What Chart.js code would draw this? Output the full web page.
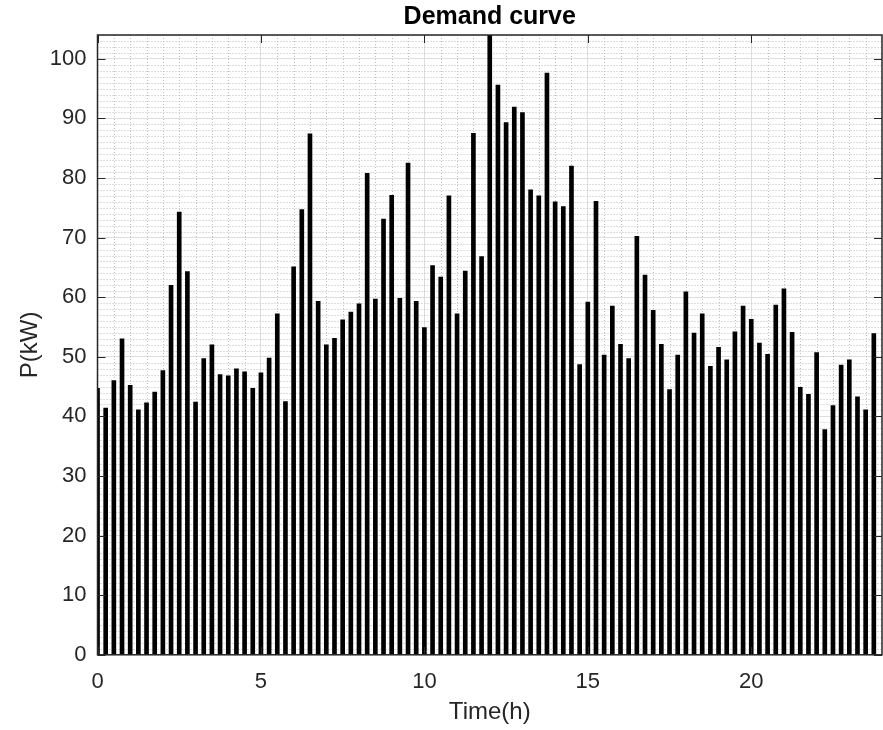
<!DOCTYPE html>
<html>
<head>
<meta charset="utf-8">
<script src="https://cdn.jsdelivr.net/npm/chart.js@4/dist/chart.umd.min.js"></script>
<style>
  html, body { margin: 0; padding: 0; background: #fff; }
  #wrap { width: 883px; height: 730px; }
</style>
</head>
<body>
<div id="wrap"><canvas id="demandChart" width="883" height="730"></canvas></div>
<script>
// time of day (h), one bar every 15 minutes
var times = [
  0, 0.25, 0.5, 0.75, 1, 1.25, 1.5, 1.75, 2, 2.25, 2.5, 2.75,
  3, 3.25, 3.5, 3.75, 4, 4.25, 4.5, 4.75, 5, 5.25, 5.5, 5.75,
  6, 6.25, 6.5, 6.75, 7, 7.25, 7.5, 7.75, 8, 8.25, 8.5, 8.75,
  9, 9.25, 9.5, 9.75, 10, 10.25, 10.5, 10.75, 11, 11.25, 11.5, 11.75,
  12, 12.25, 12.5, 12.75, 13, 13.25, 13.5, 13.75, 14, 14.25, 14.5, 14.75,
  15, 15.25, 15.5, 15.75, 16, 16.25, 16.5, 16.75, 17, 17.25, 17.5, 17.75,
  18, 18.25, 18.5, 18.75, 19, 19.25, 19.5, 19.75, 20, 20.25, 20.5, 20.75,
  21, 21.25, 21.5, 21.75, 22, 22.25, 22.5, 22.75, 23, 23.25, 23.5, 23.75
];

// demand P (kW)
var demand = [
  44.7, 41.4, 46.0, 53.0, 45.2, 41.1, 42.3, 44.1, 47.7, 62.0, 74.3, 64.3,
  42.4, 49.7, 52.0, 47.0, 46.8, 48.0, 47.5, 44.7, 47.3, 49.8, 57.2, 42.5,
  65.1, 74.7, 87.4, 59.3, 52.0, 53.1, 56.2, 57.5, 58.9, 80.8, 59.7, 73.1,
  77.1, 59.8, 82.5, 59.3, 54.9, 65.3, 63.4, 77.0, 57.2, 64.4, 87.5, 66.8,
  105.0, 95.6, 89.3, 91.9, 91.0, 78.0, 77.0, 97.6, 76.0, 75.2, 82.0, 48.7,
  59.2, 76.1, 50.3, 58.5, 52.1, 49.7, 70.2, 63.7, 57.8, 52.1, 44.5, 50.3,
  60.9, 54.0, 57.2, 48.4, 51.6, 49.5, 54.2, 58.5, 56.3, 52.3, 50.4, 58.7,
  61.4, 54.1, 44.9, 43.7, 50.7, 37.8, 41.8, 48.6, 49.5, 43.3, 41.1, 53.9
];

var xTicks = [0, 5, 10, 15, 20];
var yTicks = [0, 10, 20, 30, 40, 50, 60, 70, 80, 90, 100];

var FONT = "'Liberation Sans', Arial, Helvetica, sans-serif";
var AXIS_COLOR = '#262626';

// matlab style: dotted minor grid, box, inward ticks, title over the axes
var matlabAxes = {
  id: 'matlabAxes',
  beforeDatasetsDraw: function (chart) {
    var ctx = chart.ctx, a = chart.chartArea, x = chart.scales.x, y = chart.scales.y;
    ctx.save();
    ctx.beginPath();
    ctx.rect(a.left, a.top, a.right - a.left, a.bottom - a.top);
    ctx.clip();
    ctx.strokeStyle = '#bdbdbd';
    ctx.lineWidth = 1;
    ctx.setLineDash([1, 2]);
    var v, p;
    for (v = 0.5; v < 24; v += 0.5) {
      if (v % 5 === 0) continue;
      p = Math.round(x.getPixelForValue(v)) + 0.5;
      ctx.beginPath(); ctx.moveTo(p, a.top); ctx.lineTo(p, a.bottom); ctx.stroke();
    }
    for (v = 1; v < 105; v += 1) {
      if (v % 10 === 0) continue;
      p = Math.round(y.getPixelForValue(v)) + 0.5;
      ctx.beginPath(); ctx.moveTo(a.left, p); ctx.lineTo(a.right, p); ctx.stroke();
    }
    ctx.restore();
  },
  afterDatasetsDraw: function (chart) {
    var ctx = chart.ctx, a = chart.chartArea, x = chart.scales.x, y = chart.scales.y;
    var tl = 8;
    ctx.save();
    ctx.strokeStyle = AXIS_COLOR;
    ctx.lineWidth = 1.5;
    ctx.strokeRect(a.left, a.top, a.right - a.left, a.bottom - a.top);
    ctx.lineWidth = 1;
    xTicks.forEach(function (t) {
      var p = Math.round(x.getPixelForValue(t)) + 0.5;
      ctx.beginPath();
      ctx.moveTo(p, a.bottom); ctx.lineTo(p, a.bottom - tl);
      ctx.moveTo(p, a.top); ctx.lineTo(p, a.top + tl);
      ctx.stroke();
    });
    yTicks.forEach(function (t) {
      var p = Math.round(y.getPixelForValue(t)) + 0.5;
      ctx.beginPath();
      ctx.moveTo(a.left, p); ctx.lineTo(a.left + tl, p);
      ctx.moveTo(a.right, p); ctx.lineTo(a.right - tl, p);
      ctx.stroke();
    });
    ctx.fillStyle = '#000';
    ctx.font = 'bold 25px ' + FONT;
    ctx.textAlign = 'center';
    ctx.textBaseline = 'middle';
    ctx.fillText('Demand curve', (a.left + a.right) / 2, 17);
    ctx.restore();
  }
};

var ctx = document.getElementById('demandChart').getContext('2d');
var chart = new Chart(ctx, {
  type: 'bar',
  data: {
    datasets: [{
      data: times.map(function (t, i) { return { x: t, y: demand[i] }; }),
      backgroundColor: '#000000',
      borderWidth: 0,
      barThickness: 4
    }]
  },
  options: {
    responsive: false,
    animation: false,
    layout: { padding: { top: 35, right: 1, bottom: 3, left: 16 } },
    plugins: {
      legend: { display: false },
      tooltip: { enabled: false }
    },
    scales: {
      x: {
        type: 'linear',
        min: 0,
        max: 24,
        offset: false,
        grid: { offset: false, color: '#dedede', drawTicks: false },
        border: { display: false },
        afterBuildTicks: function (axis) {
          axis.ticks = xTicks.map(function (v) { return { value: v }; });
        },
        ticks: {
          padding: 14,
          color: AXIS_COLOR,
          maxRotation: 0,
          font: { family: FONT, size: 22 }
        },
        title: {
          display: true,
          text: 'Time(h)',
          color: AXIS_COLOR,
          padding: { top: -11, bottom: 0 },
          font: { family: FONT, size: 24 }
        }
      },
      y: {
        min: 0,
        max: 104,
        grid: { color: '#dedede', drawTicks: false },
        border: { display: false },
        afterBuildTicks: function (axis) {
          axis.ticks = yTicks.map(function (v) { return { value: v }; });
        },
        ticks: {
          padding: 11,
          color: AXIS_COLOR,
          font: { family: FONT, size: 22 }
        },
        title: {
          display: true,
          text: 'P(kW)',
          color: AXIS_COLOR,
          padding: { top: 0, bottom: -6 },
          font: { family: FONT, size: 24 }
        }
      }
    }
  },
  plugins: [matlabAxes]
});
</script>
</body>
</html>
